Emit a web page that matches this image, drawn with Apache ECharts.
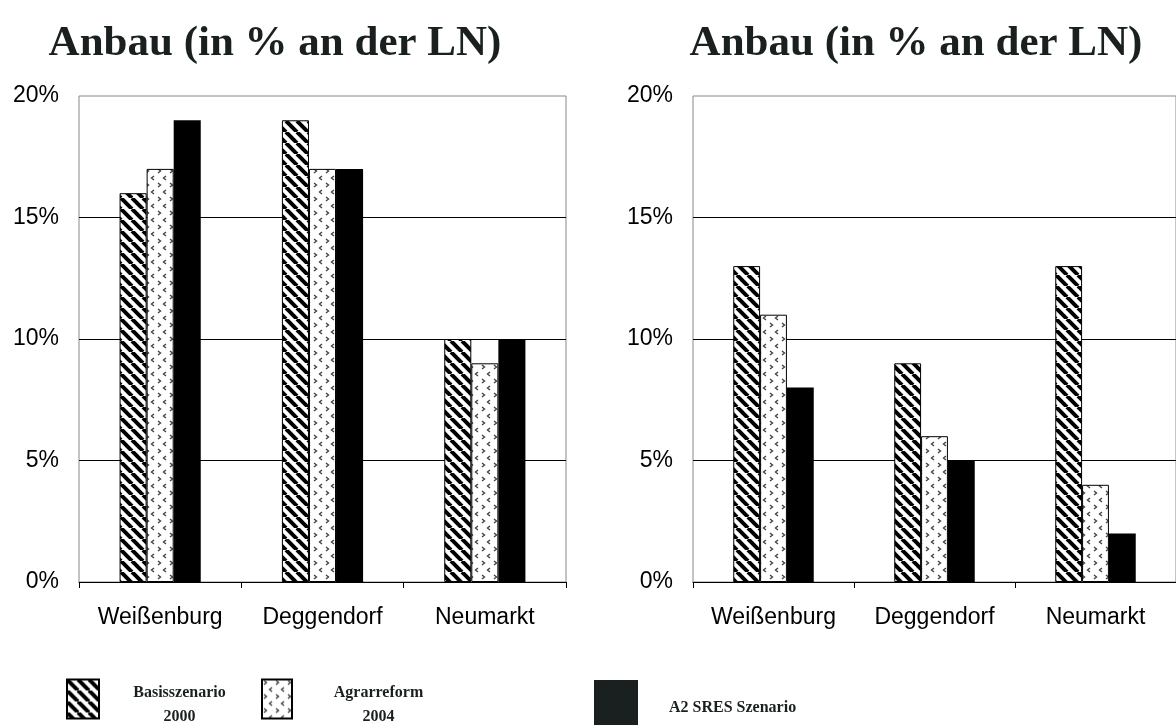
<!DOCTYPE html>
<html>
<head>
    <meta charset="utf-8">
    <title>Anbau (in % an der LN)</title>
    <script src="https://cdn.jsdelivr.net/npm/echarts@6/dist/echarts.min.js"></script>
    <style>
        html, body { margin: 0; padding: 0; background: #fff; }
    </style>
</head>
<body>
    <div id="anbauView" style="width: 1176px;height: 728px;"></div>
</body>

<script>
    // Kategorien und Werte (in %)
    var categories = ['Weißenburg', 'Deggendorf', 'Neumarkt'];
    var yTicks = [0, 5, 10, 15, 20];

    var leftBasis = [16, 19, 10];
    var leftAgrar = [17, 17, 9];
    var leftA2 = [19, 17, 10];

    var rightBasis = [13, 9, 13];
    var rightAgrar = [11, 6, 4];
    var rightA2 = [8, 5, 2];

    var seriesNames = ['Basisszenario 2000', 'Agrarreform 2004', 'A2 SRES Szenario'];

    // Schraffur-Muster
    function hatchPattern() {
        var s = 11;
        var c = document.createElement('canvas');
        c.width = s; c.height = s;
        var ctx = c.getContext('2d');
        ctx.fillStyle = '#fff';
        ctx.fillRect(0, 0, s, s);
        ctx.strokeStyle = '#000';
        ctx.lineWidth = 4;
        [-s, 0, s].forEach(function (x) {
            ctx.beginPath();
            ctx.moveTo(x, 0);
            ctx.lineTo(x + s, s);
            ctx.stroke();
        });
        return { image: c, repeat: 'repeat' };
    }

    function dotPattern() {
        var c = document.createElement('canvas');
        c.width = 12; c.height = 14;
        var ctx = c.getContext('2d');
        ctx.fillStyle = '#fff';
        ctx.fillRect(0, 0, 12, 14);
        ctx.strokeStyle = '#444';
        ctx.lineWidth = 1.4;
        ctx.beginPath();
        // ">"
        ctx.moveTo(2, 1); ctx.lineTo(4.5, 3); ctx.lineTo(2, 5);
        // "<"
        ctx.moveTo(10, 8); ctx.lineTo(7.5, 10); ctx.lineTo(10, 12);
        ctx.stroke();
        return { image: c, repeat: 'repeat' };
    }

    var hatch = hatchPattern();
    var dots = dotPattern();
    var colors = [hatch, dots, '#000'];

    var sans = 'Arial, "Liberation Sans", sans-serif';
    var serif = '"Times New Roman", "Liberation Serif", serif';

    function makeXAxis(idx) {
        return {
            type: 'category',
            gridIndex: idx,
            data: categories,
            axisLine: { lineStyle: { color: '#000', width: 1 } },
            axisTick: { show: true, length: 6, lineStyle: { color: '#000' } },
            axisLabel: { color: '#000', fontSize: 23, fontFamily: sans, margin: 24, interval: 0, hideOverlap: false }
        };
    }

    function makeYAxis(idx) {
        return {
            type: 'value',
            gridIndex: idx,
            min: yTicks[0],
            max: yTicks[yTicks.length - 1],
            interval: 5,
            axisLine: { show: false },
            axisTick: { show: false },
            axisLabel: { color: '#000', fontSize: 23, fontFamily: sans, margin: 20, formatter: '{value}%' },
            splitLine: { show: true, showMinLine: false, showMaxLine: false, lineStyle: { color: '#000', width: 1 } }
        };
    }

    function makeBars(idx, values) {
        return values.map(function (vals, i) {
            return {
                name: seriesNames[i],
                type: 'bar',
                xAxisIndex: idx,
                yAxisIndex: idx,
                data: vals,
                barGap: '0%',
                barCategoryGap: '50%',
                itemStyle: {
                    color: colors[i],
                    borderColor: '#000',
                    borderWidth: i < 2 ? 1 : 0
                },
                emphasis: { disabled: true },
                animation: false
            };
        });
    }

    function makeLegend(i, left, top, size, richStyle) {
        return {
            selectedMode: false,
            left: left,
            top: top,
            padding: 0,
            orient: 'horizontal',
            icon: 'rect',
            itemWidth: size[0],
            itemHeight: size[1],
            data: [{
                name: seriesNames[i],
                itemStyle: i < 2 ? { color: colors[i], borderColor: '#000', borderWidth: 2 } : { color: '#1a2020', borderWidth: 0 }
            }],
            formatter: function (name) {
                if (i === 0) return '{c|Basisszenario}\n{c|2000}';
                if (i === 1) return '{c|Agrarreform}\n{c|2004}';
                return '{c|A2 SRES Szenario}';
            },
            textStyle: {
                fontFamily: serif,
                fontWeight: 'bold',
                fontSize: 16,
                color: '#1a2020',
                rich: { c: richStyle }
            }
        };
    }

    function rich(extra) {
        var r = { fontFamily: serif, fontWeight: 'bold', fontSize: 16, color: '#1a2020', lineHeight: 24 };
        for (var k in extra) r[k] = extra[k];
        return r;
    }

    var anbauOption = {
        backgroundColor: '#fff',
        animation: false,
        title: [{
            text: 'Anbau (in % an der LN)',
            left: 270, top: 17, textAlign: 'center',
            textStyle: { fontFamily: serif, fontWeight: 'bold', fontSize: 43, color: '#1a2020' }
        }, {
            text: 'Anbau (in % an der LN)',
            left: 911, top: 17, textAlign: 'center',
            textStyle: { fontFamily: serif, fontWeight: 'bold', fontSize: 43, color: '#1a2020' }
        }],
        grid: [
            { left: 79, top: 96, width: 487, height: 486, show: true, borderColor: '#888', borderWidth: 1, backgroundColor: 'transparent' },
            { left: 693, top: 96, width: 486, height: 486, show: true, borderColor: '#888', borderWidth: 1, backgroundColor: 'transparent' }
        ],
        legend: [
            makeLegend(0, 66, 673, [32, 39], rich({ width: 151, align: 'center', padding: [12, 0, 0, 0] })),
            makeLegend(1, 261, 673, [30, 39], rich({ width: 163, align: 'center', padding: [12, 0, 0, 0] })),
            makeLegend(2, 594, 680, [44, 45], rich({ padding: [10, 0, 0, 26] }))
        ],
        xAxis: [makeXAxis(0), makeXAxis(1)],
        yAxis: [makeYAxis(0), makeYAxis(1)],
        series: makeBars(0, [leftBasis, leftAgrar, leftA2]).concat(makeBars(1, [rightBasis, rightAgrar, rightA2]))
    };

    var anbauChart = echarts.init(document.getElementById('anbauView'));
    anbauChart.setOption(anbauOption, true);
</script>
</html>
